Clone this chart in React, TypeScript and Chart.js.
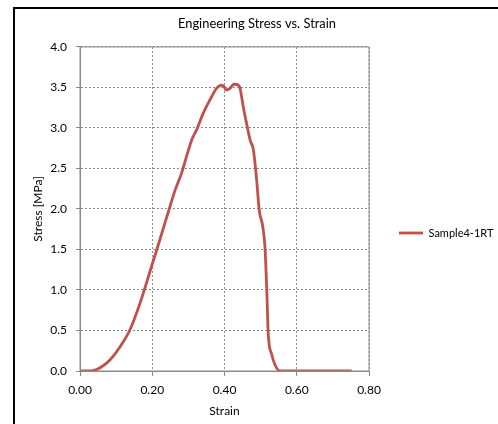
import React, { useEffect, useRef } from "react";
import { Chart, registerables } from "chart.js";

Chart.register(...registerables);

const strain = [0, 0.02, 0.035, 0.046, 0.065, 0.083, 0.111, 0.138, 0.166, 0.198, 0.221, 0.249, 0.263, 0.281, 0.295, 0.309, 0.323, 0.341, 0.36, 0.378, 0.392, 0.399, 0.404, 0.415, 0.426, 0.438, 0.443, 0.452, 0.461, 0.471, 0.48, 0.489, 0.496, 0.506, 0.512, 0.517, 0.521, 0.531, 0.54, 0.554, 0.6, 0.7, 0.752];
const stress = [0, 0, 0.004, 0.018, 0.068, 0.136, 0.3, 0.506, 0.835, 1.29, 1.62, 2.03, 2.23, 2.44, 2.65, 2.85, 2.98, 3.18, 3.35, 3.49, 3.53, 3.51, 3.47, 3.49, 3.54, 3.53, 3.49, 3.26, 3.06, 2.85, 2.73, 2.36, 1.99, 1.78, 1.53, 1.0, 0.465, 0.2, 0.074, 0, 0, 0, 0];
const seriesName = "Sample4-1RT";
const chartTitle = "Engineering Stress vs. Strain";
const xTitle = "Strain";
const yTitle = "Stress [MPa]";
const xTicks = [0, 0.2, 0.4, 0.6, 0.8];
const yTicks = [0, 0.5, 1, 1.5, 2, 2.5, 3, 3.5, 4];

const FONT = "Lato";
const GRID = "#8a8a8a";
const W = 498;
const H = 424;
const PAD_L = 16;
const AREA_LEFT = 80;
const AREA_RIGHT = 369;
const AREA_BOTTOM = 371;

const frame = {
  id: "frame",
  afterDatasetsDraw(chart: any) {
    const { ctx, chartArea } = chart;
    ctx.save();
    ctx.strokeStyle = GRID;
    ctx.lineWidth = 1;
    ctx.strokeRect(chartArea.left, chartArea.top, chartArea.right - chartArea.left, chartArea.bottom - chartArea.top);
    ctx.restore();
  },
};

const legendWidth = {
  id: "legendWidth",
  beforeLayout(chart: any) {
    const lg = chart.legend;
    if (lg && !lg.__fixed) {
      const orig = lg.fit.bind(lg);
      lg.fit = function () {
        orig();
        this.width = W - AREA_RIGHT;
      };
      lg.__fixed = true;
    }
  },
};

export default function App() {
  const ref = useRef<HTMLCanvasElement | null>(null);
  useEffect(() => {
    if (!ref.current) return;
    const chart = new Chart(ref.current, {
      type: "scatter",
      data: {
        datasets: [
          {
            label: seriesName,
            data: strain.map((x, i) => ({ x, y: stress[i] })),
            showLine: true,
            borderColor: "#C0504D",
            backgroundColor: "#C0504D",
            borderWidth: 2.8,
            pointRadius: 0,
            pointStyle: "line",
            cubicInterpolationMode: "monotone",
          },
        ],
      },
      plugins: [frame, legendWidth],
      options: {
        animation: false,
        responsive: false,
        devicePixelRatio: 1,
        layout: { padding: { left: PAD_L, right: 0, top: 0, bottom: 0 } },
        plugins: {
          title: {
            display: true,
            text: chartTitle,
            color: "#000",
            font: { family: FONT, size: 12.9, weight: "normal" },
            padding: { top: 16.5, bottom: 15 },
          },
          legend: {
            position: "right",
            align: "center",
            title: { display: true, text: "", padding: { top: 0, bottom: 27.6 }, font: { family: FONT, size: 12 } },
            labels: {
              usePointStyle: true,
              pointStyle: "line",
              pointStyleWidth: 24,
              padding: 30,
              color: "#000",
              font: { family: FONT, size: 11 },
            },
          },
          tooltip: { enabled: false },
        },
        scales: {
          x: {
            type: "linear",
            min: 0,
            max: 0.8,
            afterBuildTicks: (s: any) => { s.ticks = xTicks.map((v) => ({ value: v })); },
            afterFit: (s: any) => { s.height = H - AREA_BOTTOM; },
            ticks: {
              padding: 7,
              color: "#000",
              font: { family: FONT, size: 12 },
              callback: (v: any) => Number(v).toFixed(2),
            },
            grid: { color: GRID, tickLength: 5, tickColor: GRID, tickBorderDash: [] },
            border: { display: true, color: GRID, dash: [2, 2] },
            title: { display: true, text: xTitle, color: "#000", font: { family: FONT, size: 12 }, padding: { top: 0, bottom: 5.5 } },
          },
          y: {
            type: "linear",
            min: 0,
            max: 4,
            afterBuildTicks: (s: any) => { s.ticks = yTicks.map((v) => ({ value: v })); },
            afterFit: (s: any) => { s.width = AREA_LEFT - PAD_L; },
            ticks: {
              padding: 9,
              color: "#000",
              font: { family: FONT, size: 12 },
              callback: (v: any) => Number(v).toFixed(1),
            },
            grid: { color: GRID, tickLength: 4, tickColor: GRID, tickBorderDash: [] },
            border: { display: true, color: GRID, dash: [2, 2] },
            title: { display: true, text: yTitle, color: "#000", font: { family: FONT, size: 12 }, padding: { top: 14.8, bottom: 0 } },
          },
        },
      },
    } as any);
    return () => chart.destroy();
  }, []);
  return (
    <div style={{ position: "fixed", left: 0, top: 0, width: W, height: H, background: "#fff" }}>
      <canvas ref={ref} width={W} height={H} style={{ position: "absolute", left: 0, top: 0, width: W, height: H }} />
      <div style={{ position: "absolute", left: 13, top: 7, width: W - 13, height: 2, background: "#000" }} />
      <div style={{ position: "absolute", left: 13, top: 7, width: 2, height: H - 7, background: "#000" }} />
    </div>
  );
}
